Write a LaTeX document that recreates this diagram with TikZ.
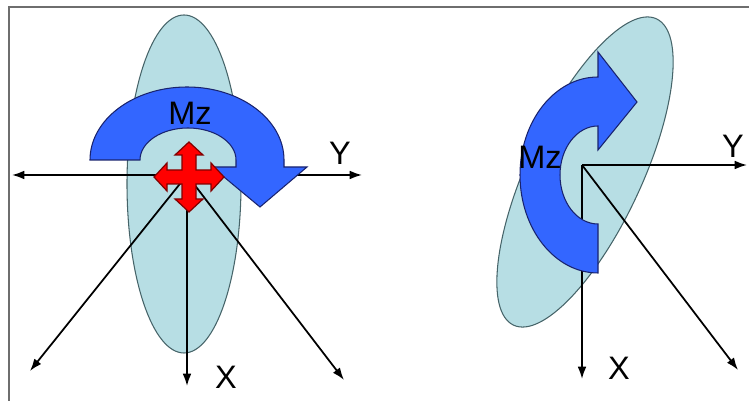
\documentclass[tikz,border=0pt]{standalone}
\usepackage{fontspec}
\setmainfont{Liberation Sans}
\usetikzlibrary{arrows.meta}
\definecolor{DiscClr}{RGB}{183,222,228}
\definecolor{DiscLine}{RGB}{70,100,105}
\definecolor{MomentClr}{RGB}{51,102,255}
\definecolor{MomentLine}{RGB}{25,35,110}
\definecolor{ForceClr}{RGB}{255,0,0}
\definecolor{ForceLine}{RGB}{130,0,0}
\definecolor{FrameClr}{RGB}{110,110,110}

\begin{document}
\begin{tikzpicture}[x=0.02cm,y=0.02cm,
  axis/.style={line width=1pt,>={Latex[length=7pt,width=5pt]},->},
  disc/.style={fill=DiscClr,draw=DiscLine,line width=0.6pt},
  moment/.style={fill=MomentClr,draw=MomentLine,line width=0.6pt},
  force/.style={fill=ForceClr,draw=ForceLine,line width=0.7pt},
  lbl/.style={font=\fontsize{18.5}{22}\selectfont,inner sep=0pt}]
\useasboundingbox (0,0) rectangle (749,401);
\draw[FrameClr,line width=1.2pt] (9,0) -- (9,394) -- (749,394);

% left disc, seen edge on
\draw[disc] (184,217) ellipse [x radius=57,y radius=169];

\coordinate (O1) at (187,226);
\coordinate (YL) at (12,226);
\coordinate (YR) at (362,226);
\coordinate (X1) at (187,15);
\coordinate (D1) at (30,30);
\coordinate (E1) at (344,21);

\draw[axis,<->] (YL) -- (YR);
\draw[axis] (O1) -- (X1);
\draw[axis] (O1) -- (D1);
\draw[axis] (O1) -- (E1);

\draw[moment] (90,241) arc[start angle=180,end angle=0,x radius=97,y radius=73]
  -- (284,234) -- (307,234) -- (260,194) -- (212,234) -- (236,234) -- (236,241)
  arc[start angle=0,end angle=180,x radius=48,y radius=32] -- cycle;

\draw[force,shift={(189,224)}] (7,7) -- (22,7) -- (22,14) -- (35,0) -- (22,-14)
  -- (22,-7) -- (7,-7) -- (7,-22) -- (14,-22) -- (0,-35) -- (-14,-22) -- (-7,-22)
  -- (-7,-7) -- (-22,-7) -- (-22,-14) -- (-35,0) -- (-22,14) -- (-22,7) -- (-7,7)
  -- (-7,22) -- (-14,22) -- (0,35) -- (14,22) -- (7,22) -- cycle;

\node[lbl] (Mz1) at (190,288) {Mz};
\node[lbl] (Ylbl1) at (340,248) {Y};
\node[lbl] (Xlbl1) at (226,24) {X};

% right disc, turned
\draw[disc,rotate around={-25:(585,229)}] (585,229) ellipse [x radius=57,y radius=169];

\coordinate (O2) at (582,236);
\coordinate (Y2) at (747,236);
\coordinate (X2) at (582,22);
\coordinate (D2) at (738,31);

\draw[axis] (O2) -- (Y2);
\draw[axis] (O2) -- (X2);
\draw[axis] (O2) -- (D2);

\draw[moment] (598,128) arc[start angle=270,end angle=90,x radius=78,y radius=98]
  -- (598,349) -- (637,299) -- (598,251) -- (598,275)
  arc[start angle=90,end angle=270,x radius=38,y radius=49] -- cycle;

\node[lbl] (Mz2) at (540,244) {Mz};
\node[lbl] (Ylbl2) at (733,255) {Y};
\node[lbl] (Xlbl2) at (619,33) {X};

\end{tikzpicture}
\end{document}
